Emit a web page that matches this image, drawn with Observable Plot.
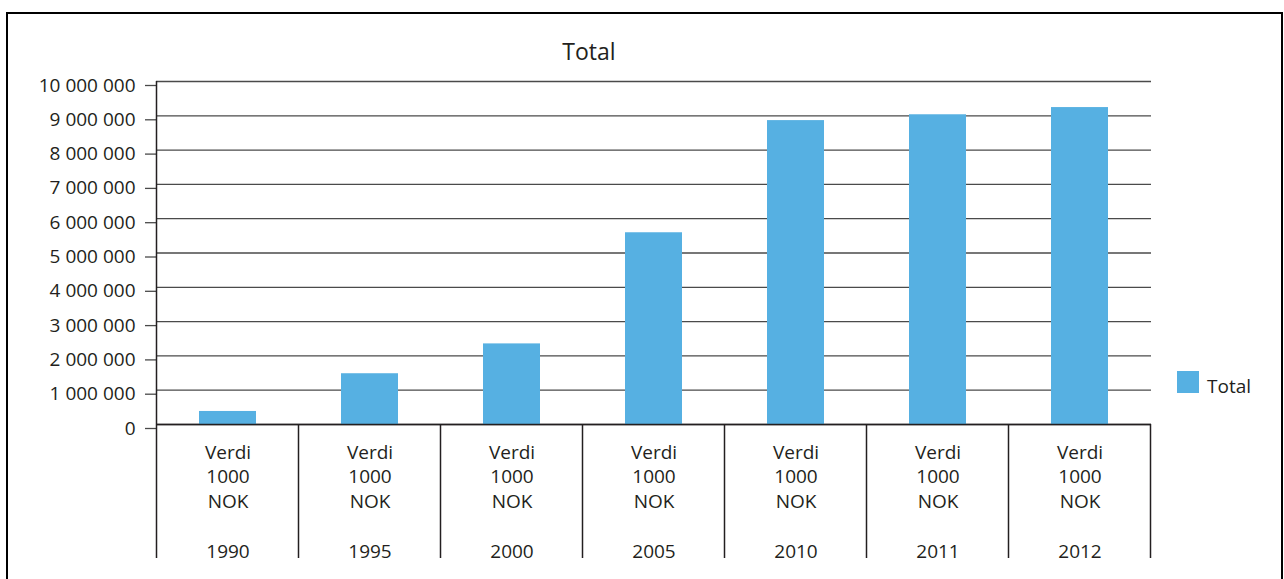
<!DOCTYPE html>
<html>
<head>
<meta charset="utf-8">
<script src="https://cdn.jsdelivr.net/npm/d3@7"></script>
<script src="https://cdn.jsdelivr.net/npm/@observablehq/plot@0.6"></script>
<style>
  body { margin: 0; background: #fff; font-family: "Open Sans", sans-serif; color: #231f20; }
  #wrap { position: relative; width: 1284px; height: 579px; overflow: hidden; }
  #frame { position: absolute; left: 6px; top: 12px; width: 1273px; height: 620px; border: 2px solid #000; }
  #chart { position: absolute; left: 0; top: 0; }
  #title { position: absolute; left: 489px; width: 200px; top: 40px; text-align: center; font-size: 23px; line-height: 23px; }
  #legend { position: absolute; left: 1177px; top: 371px; height: 22px; display: flex; align-items: center; }
  #legend .sw { width: 22px; height: 22px; background: #56b0e2; }
  #legend .lb { margin-left: 8px; font-size: 19px; line-height: 19px; position: relative; top: 4px; }
</style>
</head>
<body>
<div id="wrap">
  <div id="frame"></div>
  <div id="chart"></div>
  <div id="title">Total</div>
  <div id="legend"><div class="sw"></div><div class="lb">Total</div></div>
</div>
<script>
const years = ["1990", "1995", "2000", "2005", "2010", "2011", "2012"];
const values = [380000, 1480000, 2350000, 5590000, 8860000, 9030000, 9240000];
const unitLabel = "Verdi\n1000\nNOK";
const yTicks = [0, 1000000, 2000000, 3000000, 4000000, 5000000, 6000000, 7000000, 8000000, 9000000, 10000000];

const data = years.map((year, i) => ({year, value: values[i]}));
const nok = d3.formatLocale({decimal: ",", thousands: " ", grouping: [3]}).format(",");

function separators(index, scales, vals, dims) {
  const x = scales.x, y = scales.y;
  const step = x(years[1]) - x(years[0]);
  const bw = typeof x.bandwidth === "function" ? x.bandwidth() : 0;
  const edges = years.map(d => x(d) + bw / 2 - step / 2);
  edges.push(x(years[years.length - 1]) + bw / 2 + step / 2);
  const g = d3.create("svg:g").attr("stroke", "#231f20").attr("stroke-width", 1.5);
  edges.forEach((e, i) => {
    g.append("line")
      .attr("x1", e).attr("x2", e)
      .attr("y1", i === 0 ? y(yTicks[yTicks.length - 1]) : y(0))
      .attr("y2", dims.height - 21);
  });
  return g.node();
}

const plot = Plot.plot({
  width: 1284,
  height: 579,
  marginLeft: 156,
  marginRight: 133,
  marginTop: 81,
  marginBottom: 155,
  style: {fontFamily: "Open Sans", fontSize: "19px", color: "#231f20", background: "transparent"},
  x: {domain: years, paddingInner: 0.6, paddingOuter: 0.3, axis: null},
  y: {domain: [0, 10000000], axis: null},
  marks: [
    Plot.ruleY(yTicks, {y: d => d, stroke: "#4a4a4a", strokeWidth: 1.3}),
    Plot.axisY(yTicks, {label: null, tickSize: 11, tickPadding: 10, tickFormat: nok, stroke: "#4a4a4a", strokeWidth: 1.3, fill: "#231f20", fontSize: 19, dy: 4}),
    Plot.barY(data, {x: "year", y: "value", fill: "#56b0e2"}),
    Plot.ruleY([0], {stroke: "#231f20", strokeWidth: 1.5}),
    separators,
    Plot.text(data, {x: "year", y: () => 0, text: () => unitLabel, lineAnchor: "top", lineHeight: 1.3, dy: 16.5, fontSize: 19, fill: "#231f20"}),
    Plot.text(data, {x: "year", y: () => 0, text: "year", lineAnchor: "top", dy: 120, fontSize: 19, fill: "#231f20"})
  ]
});
document.getElementById("chart").appendChild(plot);
</script>
</body>
</html>
